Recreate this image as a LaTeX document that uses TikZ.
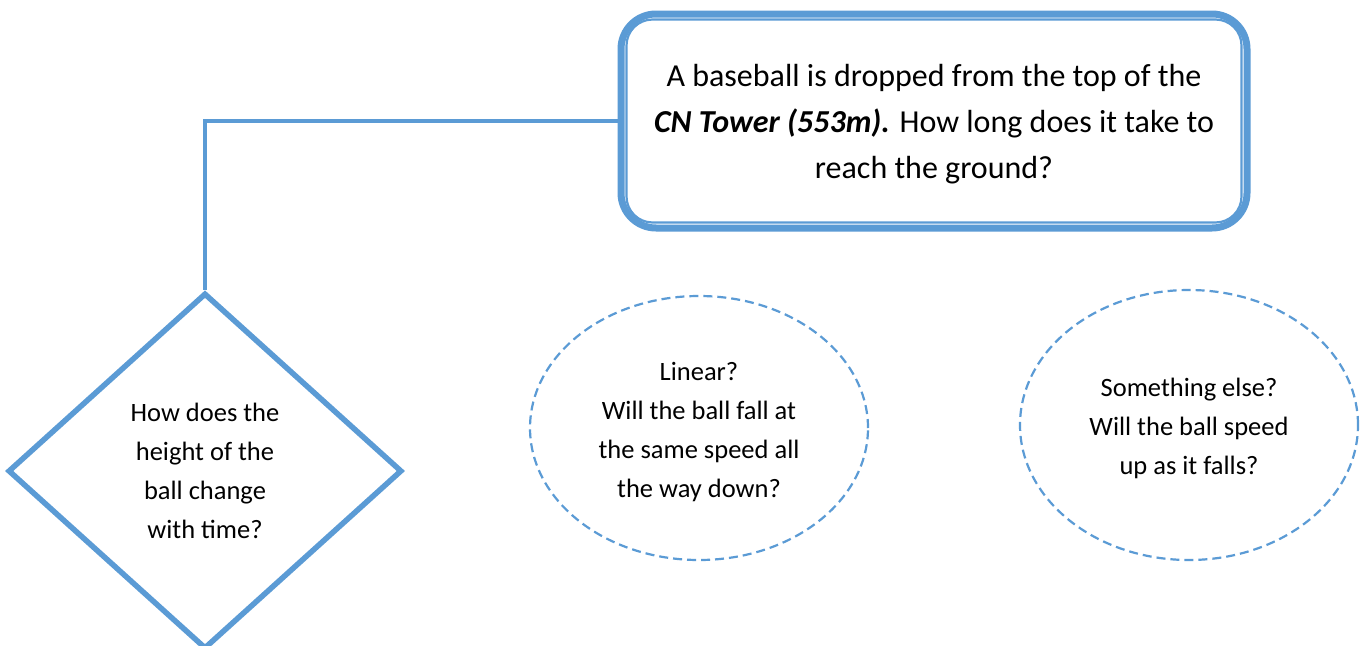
\documentclass[tikz,border=0pt]{standalone}
\usepackage{fontspec}
\setmainfont{Carlito}
\usetikzlibrary{shapes.geometric,calc}
\definecolor{officeblue}{RGB}{91,155,213}
\tikzset{
  questionbox/.style={draw=officeblue, line width=7pt, rounded corners=35pt,
    minimum width=626pt, minimum height=214pt, inner sep=0pt, fill=white},
  questiontext/.style={align=center, inner sep=0pt, font=\fontsize{32}{46}\selectfont},
  decisionbox/.style={diamond, draw=officeblue, line width=5.5pt,
    minimum width=394pt, minimum height=356pt, inner sep=0pt,
    align=center, font=\fontsize{26.5}{39}\selectfont},
  ideabubble/.style={ellipse, draw=officeblue, line width=2.2pt,
    dash pattern=on 9pt off 5pt, inner sep=0pt},
  bubbletext/.style={align=center, inner sep=0pt, font=\fontsize{26.5}{39}\selectfont},
  link/.style={draw=officeblue, line width=4.5pt}
}
\begin{document}
\begin{tikzpicture}[x=1pt, y=-1pt]
  \useasboundingbox (0,0) rectangle (1364,645);
  \clip (0,0) rectangle (1364,645);
  \fill[white] (0,0) rectangle (1364,645);

  % main question: thick outer frame with a thin inner frame
  \node[questionbox] (question) at (934,121) {};
  \draw[officeblue, line width=2.2pt, rounded corners=26pt]
    ($(question.south west)+(9,-9)$) rectangle ($(question.north east)+(-9,9)$);
  \node[questiontext] (questiontxt) at ($(question.center)+(0,3)$)
    {A baseball is dropped from the top of the\\
     \textbf{\textit{CN Tower (553m).}} How long does it take to\\
     reach the ground?};

  % decision diamond
  \node[decisionbox] (decide) at (205,471)
    {How does the\\height of the\\ball change\\with time?};

  % connector from the question to the diamond
  \draw[link] (question.west) -| (decide.north);

  % the two hypotheses
  \node[ideabubble, minimum width=338pt, minimum height=264pt] (linear) at (699,428) {};
  \node[bubbletext] (lineartxt) at ($(linear.center)+(0,4)$)
    {Linear?\\Will the ball fall at\\the same speed all\\the way down?};
  \node[ideabubble, minimum width=338pt, minimum height=270pt] (other) at (1189,425) {};
  \node[bubbletext] (othertxt) at ($(other.center)+(0,3)$)
    {Something else?\\Will the ball speed\\up as it falls?};
\end{tikzpicture}
\end{document}
